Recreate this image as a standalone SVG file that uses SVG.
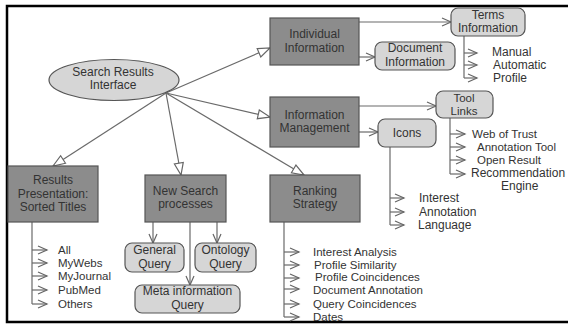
<svg xmlns="http://www.w3.org/2000/svg" width="568" height="325" viewBox="0 0 568 325">
<style>
text{font-family:"Liberation Sans",Arial,sans-serif;font-size:12px;fill:#333}
.c{text-anchor:middle}
.s{font-size:11.5px}
.dark{fill:#8c8c8c;stroke:#555;stroke-width:1.2}
.light{fill:#d6d6d6;stroke:#555;stroke-width:1.2}
.ln{stroke:#6a6a6a;stroke-width:1.2;fill:none}
.tri{marker-end:url(#tri)}
.v{marker-end:url(#v)}
</style>
<defs>
<marker id="tri" markerUnits="userSpaceOnUse" markerWidth="14" markerHeight="12" refX="13" refY="5.5" orient="auto">
<path d="M1,1 L13,5.5 L1,10 Z" fill="#fff" stroke="#666" stroke-width="1.2"/>
</marker>
<marker id="v" markerUnits="userSpaceOnUse" markerWidth="12" markerHeight="12" refX="10" refY="5" orient="auto">
<path d="M1,1 L10,5 L1,9" fill="none" stroke="#666" stroke-width="1.2"/>
</marker>
</defs>
<rect width="568" height="325" fill="#fff"/>
<path d="M570,6 H7 V322 H570" fill="none" stroke="#000" stroke-width="2.5"/>

<g id="connectors">
<line class="ln tri" x1="166" y1="93" x2="270" y2="48"/>
<line class="ln tri" x1="166" y1="93" x2="270" y2="117"/>
<line class="ln tri" x1="166" y1="93" x2="53" y2="166"/>
<line class="ln tri" x1="166" y1="93" x2="181" y2="175"/>
<line class="ln tri" x1="166" y1="93" x2="304" y2="175"/>
<line class="ln v" x1="359" y1="22" x2="451" y2="22"/>
<line class="ln v" x1="359" y1="57" x2="375" y2="57"/>
<line class="ln v" x1="359" y1="106" x2="436" y2="106"/>
<line class="ln v" x1="359" y1="132" x2="378" y2="132"/>
<line class="ln v" x1="153" y1="222" x2="153" y2="243"/>
<line class="ln v" x1="217" y1="222" x2="217" y2="243"/>
<line class="ln v" x1="190" y1="222" x2="190" y2="285"/>
<path class="ln" d="M464,36 V78"/>
<line class="ln v" x1="464" y1="53" x2="477" y2="53"/>
<line class="ln v" x1="464" y1="65" x2="477" y2="65"/>
<line class="ln v" x1="464" y1="78" x2="477" y2="78"/>
<path class="ln" d="M450,118 V174"/>
<line class="ln v" x1="450" y1="134" x2="465" y2="134"/>
<line class="ln v" x1="450" y1="147" x2="465" y2="147"/>
<line class="ln v" x1="450" y1="160" x2="465" y2="160"/>
<line class="ln v" x1="450" y1="174" x2="465" y2="174"/>
<path class="ln" d="M390,147 V225"/>
<line class="ln v" x1="390" y1="198" x2="404" y2="198"/>
<line class="ln v" x1="390" y1="212" x2="404" y2="212"/>
<line class="ln v" x1="390" y1="225" x2="404" y2="225"/>
<path class="ln" d="M284,222 V317"/>
<line class="ln v" x1="284" y1="252" x2="299" y2="252"/>
<line class="ln v" x1="284" y1="265" x2="299" y2="265"/>
<line class="ln v" x1="284" y1="278" x2="299" y2="278"/>
<line class="ln v" x1="284" y1="289" x2="299" y2="289"/>
<line class="ln v" x1="284" y1="304" x2="299" y2="304"/>
<line class="ln v" x1="284" y1="317" x2="299" y2="317"/>
<path class="ln" d="M32,222 V304"/>
<line class="ln v" x1="32" y1="250" x2="47" y2="250"/>
<line class="ln v" x1="32" y1="263" x2="47" y2="263"/>
<line class="ln v" x1="32" y1="276" x2="47" y2="276"/>
<line class="ln v" x1="32" y1="290" x2="47" y2="290"/>
<line class="ln v" x1="32" y1="304" x2="47" y2="304"/>
</g>

<g id="search-results-interface">
<ellipse cx="114" cy="80" rx="65" ry="20.5" class="light" fill="#dcdcdc"/>
<text class="c" x="113" y="76">Search Results</text>
<text class="c" x="113" y="89">Interface</text>
</g>
<g id="individual-information">
<rect x="270" y="18" width="89" height="47" class="dark"/>
<text class="c" x="314.5" y="38">Individual</text>
<text class="c" x="314.5" y="52">Information</text>
</g>
<g id="information-management">
<rect x="270" y="97" width="89" height="50" class="dark"/>
<text class="c" x="314.5" y="119">Information</text>
<text class="c" x="314.5" y="132">Management</text>
</g>
<g id="terms-information">
<rect x="451" y="8" width="74" height="28" rx="7" class="light"/>
<text class="c" x="488" y="19">Terms</text>
<text class="c" x="488" y="32">Information</text>
</g>
<g id="terms-labels">
<text x="492" y="56">Manual</text>
<text x="493" y="69">Automatic</text>
<text x="493" y="82">Profile</text>
</g>
<g id="document-information">
<rect x="375" y="42" width="80" height="28" rx="7" class="light"/>
<text class="c" x="415" y="52">Document</text>
<text class="c" x="415" y="66">Information</text>
</g>
<g id="tool-links">
<rect x="436" y="91" width="57" height="27" rx="7" class="light"/>
<text class="c s" x="464" y="102">Tool</text>
<text class="c s" x="464" y="115">Links</text>
</g>
<g id="tool-labels">
<text class="s" x="472" y="138">Web of Trust</text>
<text class="s" x="477" y="151">Annotation Tool</text>
<text class="s" x="477" y="164">Open Result</text>
<text x="471" y="177">Recommendation</text>
<text x="501" y="190">Engine</text>
</g>
<g id="icons">
<rect x="378" y="119" width="58" height="28" rx="7" class="light"/>
<text class="c" x="407" y="137">Icons</text>
</g>
<g id="icons-labels">
<text x="419" y="202">Interest</text>
<text x="419" y="216">Annotation</text>
<text x="418" y="229">Language</text>
</g>
<g id="results-presentation">
<rect x="8" y="166" width="90" height="56" class="dark"/>
<text class="c" x="53" y="184">Results</text>
<text class="c" x="53" y="198">Presentation:</text>
<text class="c" x="53" y="211">Sorted Titles</text>
</g>
<g id="results-labels">
<text class="s" x="58" y="254">All</text>
<text class="s" x="58" y="267">MyWebs</text>
<text class="s" x="58" y="280">MyJournal</text>
<text class="s" x="58" y="294">PubMed</text>
<text class="s" x="58" y="308">Others</text>
</g>
<g id="new-search-processes">
<rect x="145" y="175" width="81" height="47" class="dark"/>
<text class="c" x="185.5" y="195">New Search</text>
<text class="c" x="185.5" y="208">processes</text>
</g>
<g id="general-query">
<rect x="125" y="243" width="59" height="29" rx="7" class="light"/>
<text class="c" x="154.5" y="254">General</text>
<text class="c" x="154.5" y="268">Query</text>
</g>
<g id="ontology-query">
<rect x="195" y="243" width="61" height="29" rx="7" class="light"/>
<text class="c" x="225.5" y="254">Ontology</text>
<text class="c" x="225.5" y="268">Query</text>
</g>
<g id="meta-information-query">
<rect x="135" y="285" width="105" height="28" rx="7" class="light"/>
<text class="c" x="187.5" y="295">Meta information</text>
<text class="c" x="187.5" y="309">Query</text>
</g>
<g id="ranking-strategy">
<rect x="270" y="175" width="90" height="47" class="dark"/>
<text class="c" x="315" y="195">Ranking</text>
<text class="c" x="315" y="208">Strategy</text>
</g>
<g id="ranking-labels">
<text class="s" x="313" y="256">Interest Analysis</text>
<text class="s" x="314" y="268.5">Profile Similarity</text>
<text class="s" x="315" y="281">Profile Coincidences</text>
<text class="s" x="313" y="293.5">Document Annotation</text>
<text class="s" x="313" y="308">Query Coincidences</text>
<text class="s" x="313" y="321">Dates</text>
</g>
</svg>
